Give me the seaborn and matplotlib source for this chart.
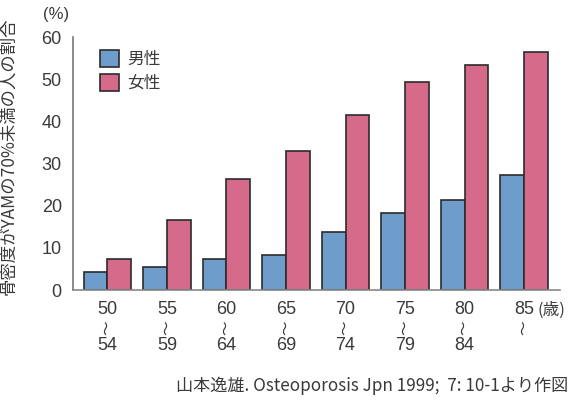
import matplotlib
matplotlib.use("Agg")
import matplotlib.pyplot as plt
import matplotlib.transforms as mtransforms
import seaborn as sns
import pandas as pd

age_groups = ["50-54", "55-59", "60-64", "65-69", "70-74", "75-79", "80-84", "85-"]
age_start = ["50", "55", "60", "65", "70", "75", "80", "85"]
age_end = ["54", "59", "64", "69", "74", "79", "84", ""]
male = [4.3, 5.6, 7.4, 8.4, 13.9, 18.4, 21.3, 27.3]
female = [7.5, 16.6, 26.4, 33.1, 41.6, 49.4, 53.4, 56.5]
series_names = ["男性", "女性"]

sns.set_theme(style="white")
plt.rcParams["font.family"] = ["Noto Sans CJK JP", "DejaVu Sans"]

df = pd.DataFrame({
    "age": age_groups * 2,
    "value": male + female,
    "sex": [series_names[0]] * len(male) + [series_names[1]] * len(female),
})

fig = plt.figure(figsize=(5.7, 4.03), dpi=100)
ax = fig.add_axes([0.128, 0.280, 0.854, 0.628])

palette = {"男性": "#6e9dcb", "女性": "#d66a8b"}
sns.barplot(data=df, x="age", y="value", hue="sex", palette=palette,
            order=age_groups, hue_order=series_names, width=0.8,
            edgecolor="#2b2b2b", linewidth=1.2, saturation=1, ax=ax)

txt = "#3a3a3a"
num_font = ["Liberation Sans", "DejaVu Sans"]
ax.set_ylim(0, 60)
ax.set_xlim(-0.58, 7.6)
ax.set_yticks(range(0, 61, 10))
ax.set_yticklabels([str(v) for v in range(0, 61, 10)], fontfamily=num_font)
ax.tick_params(axis="y", direction="in", length=4, width=1, color="#777777",
               labelsize=13, labelcolor=txt, pad=8)
ax.set_xticks(range(len(age_groups)))
ax.set_xticklabels(age_start, fontsize=13, color=txt, fontfamily=num_font)
ax.tick_params(axis="x", length=0, pad=8)

# wave marks and end ages below the start ages
trans = mtransforms.blended_transform_factory(ax.transData, ax.transAxes)
for i, end in enumerate(age_end):
    ax.text(i, -0.150, "〜", transform=trans, rotation=90, ha="center", va="center",
            fontsize=10.5, color=txt, fontfamily="Noto Sans CJK JP")
    if end:
        ax.text(i, -0.218, end, transform=trans, ha="center", va="center",
                fontsize=13, color=txt, fontfamily=num_font)

ax.set_xlabel("")
ax.set_ylabel("骨密度がYAMの70%未満の人の割合", fontsize=12.5, color=txt)
ax.yaxis.set_label_coords(-0.115, 0.53)

for s in ["top", "right"]:
    ax.spines[s].set_visible(False)
ax.spines["left"].set_color("#777777")
ax.spines["bottom"].set_color("#888888")
ax.spines["left"].set_linewidth(1.2)
ax.spines["bottom"].set_linewidth(1.2)

leg = ax.legend(loc="upper left", bbox_to_anchor=(0.055, 0.948), frameon=False,
                borderaxespad=0, borderpad=0,
                fontsize=12, handlelength=1.15, handleheight=1.15,
                handletextpad=0.5, labelspacing=0.35)
for t in leg.get_texts():
    t.set_color(txt)

fig.text(0.098, 0.965, "(%)", fontsize=12, color=txt, ha="center", va="center",
         fontfamily=num_font)
fig.text(0.943, 0.229, "(歳)", fontsize=12, color=txt, ha="left", va="center")
fig.text(0.997, 0.042, "山本逸雄. Osteoporosis Jpn 1999;  7: 10-1より作図",
         fontsize=12.3, color=txt, ha="right", va="center")

fig.savefig("out.png", dpi=100)
